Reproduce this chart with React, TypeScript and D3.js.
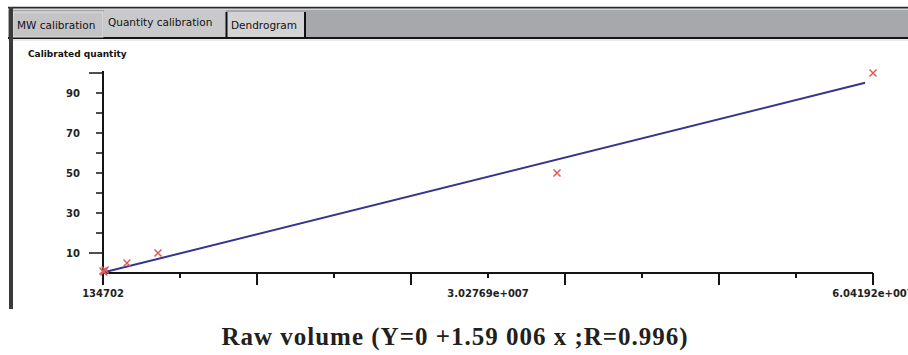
import React, { useEffect, useRef } from "react";
import * as d3 from "d3";

// raw volume vs calibrated quantity
const rawVolume = [134702, 200000, 300000, 2010000, 4440000, 35680000, 60419200];
const calibrated = [1, 0.5, 1.5, 5, 10, 50, 100];

// x axis: 10 equal steps between min and max raw volume
const xMin = 134702;
const xMax = 60419200;
const xLabels = ["134702", "3.02769e+007", "6.04192e+007"];
const xLabelSteps = [0, 5, 10];

const yTicks = [10, 20, 30, 40, 50, 60, 70, 80, 90, 100];
const yLabelled = [10, 30, 50, 70, 90];
const yLong = [10, 100];

// fit: Y = 0 + 1.59006e-6 x
const slope = 1.59006e-6;
const intercept = 0;
const fitRange = [134702, 59800000];

const tabs = ["MW calibration", "Quantity calibration", "Dendrogram"];
const caption = "Raw volume (Y=0 +1.59 006 x ;R=0.996)";

export default function App() {
  const svgRef = useRef<SVGSVGElement>(null);
  const width = 908;
  const height = 355;
  const margin = { top: 73, left: 103, right: 35, bottom: 82 };

  useEffect(() => {
    const svg = d3.select(svgRef.current);
    svg.selectAll("*").remove();

    svg.append("rect").attr("width", width).attr("height", height).attr("fill", "#fff");

    // window chrome: tab strip
    svg.append("rect").attr("x", 8).attr("y", 7).attr("width", width).attr("height", 32).attr("fill", "#a7a8ab");
    svg.append("line").attr("x1", 8).attr("x2", width).attr("y1", 7.5).attr("y2", 7.5).attr("stroke", "#2a2a2a").attr("stroke-width", 1.5);
    svg.append("line").attr("x1", 8).attr("x2", width).attr("y1", 9.5).attr("y2", 9.5).attr("stroke", "#d6d6d8");
    svg.append("line").attr("x1", 8).attr("x2", width).attr("y1", 38).attr("y2", 38).attr("stroke", "#151515").attr("stroke-width", 2);
    svg.append("line").attr("x1", 8).attr("x2", width).attr("y1", 40).attr("y2", 40).attr("stroke", "#d8d8d8");

    const tabBoxes = [
      { x: 13, w: 90, y: 12, fill: "#c4c4c6", ty: 29 },
      { x: 104, w: 122, y: 10, fill: "#c9c9cb", ty: 26 },
      { x: 227, w: 78, y: 12, fill: "#d3d3d5", ty: 29 },
    ];
    tabBoxes.forEach((t, i) => {
      svg.append("rect").attr("x", t.x).attr("y", t.y).attr("width", t.w).attr("height", 37 - t.y)
        .attr("fill", t.fill).attr("stroke", i === 0 ? "#e4e4e4" : "none");
      svg.append("text").attr("x", t.x + 4).attr("y", t.ty)
        .attr("font-family", "DejaVu Sans").attr("font-size", 10.5).attr("fill", "#111")
        .text(tabs[i]);
    });
    svg.append("line").attr("x1", 226.5).attr("x2", 226.5).attr("y1", 12).attr("y2", 38).attr("stroke", "#111").attr("stroke-width", 2);
    svg.append("line").attr("x1", 305).attr("x2", 305).attr("y1", 12).attr("y2", 38).attr("stroke", "#111").attr("stroke-width", 2);

    // left frame border
    svg.append("rect").attr("x", 9).attr("y", 7).attr("width", 4).attr("height", 302).attr("fill", "#3a3a3a");

    const x = d3.scaleLinear().domain([xMin, xMax]).range([margin.left, width - margin.right]);
    const y = d3.scaleLinear().domain([0, 100]).range([height - margin.bottom - 0, margin.top]);
    const y0 = y(0);

    svg.append("text").attr("x", 28).attr("y", 57)
      .attr("font-family", "DejaVu Sans").attr("font-weight", "bold").attr("font-size", 9).attr("fill", "#111")
      .text("Calibrated quantity");

    const axisColor = "#151515";
    // y axis
    svg.append("line").attr("x1", margin.left).attr("x2", margin.left).attr("y1", y(100) - 2).attr("y2", y0 + 12)
      .attr("stroke", axisColor).attr("stroke-width", 2);
    yTicks.forEach((v) => {
      const len = yLong.includes(v) ? 14 : 7;
      svg.append("line").attr("x1", margin.left - len).attr("x2", margin.left).attr("y1", y(v)).attr("y2", y(v))
        .attr("stroke", axisColor).attr("stroke-width", 1.5);
    });
    yLabelled.forEach((v) => {
      svg.append("text").attr("x", 80).attr("y", y(v)).attr("dy", "0.35em").attr("text-anchor", "end")
        .attr("font-family", "DejaVu Sans").attr("font-weight", "bold").attr("font-size", 10).attr("fill", "#222")
        .text(v);
    });

    // x axis
    const step = (xMax - xMin) / 10;
    svg.append("line").attr("x1", margin.left).attr("x2", x(xMax)).attr("y1", y0).attr("y2", y0)
      .attr("stroke", axisColor).attr("stroke-width", 2);
    d3.range(1, 11).forEach((i) => {
      const len = i % 2 === 0 ? 12 : 5;
      const px = x(xMin + i * step);
      svg.append("line").attr("x1", px).attr("x2", px).attr("y1", y0).attr("y2", y0 + len)
        .attr("stroke", axisColor).attr("stroke-width", 2);
    });
    xLabelSteps.forEach((s, i) => {
      svg.append("text").attr("x", x(xMin + s * step)).attr("y", 297).attr("text-anchor", "middle")
        .attr("font-family", "DejaVu Sans").attr("font-weight", "bold").attr("font-size", 10).attr("fill", "#222")
        .text(xLabels[i]);
    });

    // regression line
    svg.append("line")
      .attr("x1", x(fitRange[0])).attr("y1", y(intercept + slope * fitRange[0]))
      .attr("x2", x(fitRange[1])).attr("y2", y(intercept + slope * fitRange[1]))
      .attr("stroke", "#35358f").attr("stroke-width", 2);

    // data points as red crosses
    const r = 3.5;
    rawVolume.forEach((rv, i) => {
      const cx = x(rv);
      const cy = y(calibrated[i]);
      svg.append("path")
        .attr("d", `M${cx - r},${cy - r}L${cx + r},${cy + r}M${cx - r},${cy + r}L${cx + r},${cy - r}`)
        .attr("stroke", "#e05a5a").attr("stroke-width", 1.5).attr("fill", "none");
    });

    svg.append("text").attr("x", 455).attr("y", 345).attr("text-anchor", "middle")
      .attr("font-family", "Liberation Serif").attr("font-weight", "bold").attr("font-size", 25)
      .attr("letter-spacing", 1).attr("fill", "#231f20")
      .text(caption);
  }, []);

  return (
    <div style={{ position: "fixed", left: 0, top: 0 }}>
      <svg ref={svgRef} width={width} height={height} style={{ display: "block" }}></svg>
    </div>
  );
}
